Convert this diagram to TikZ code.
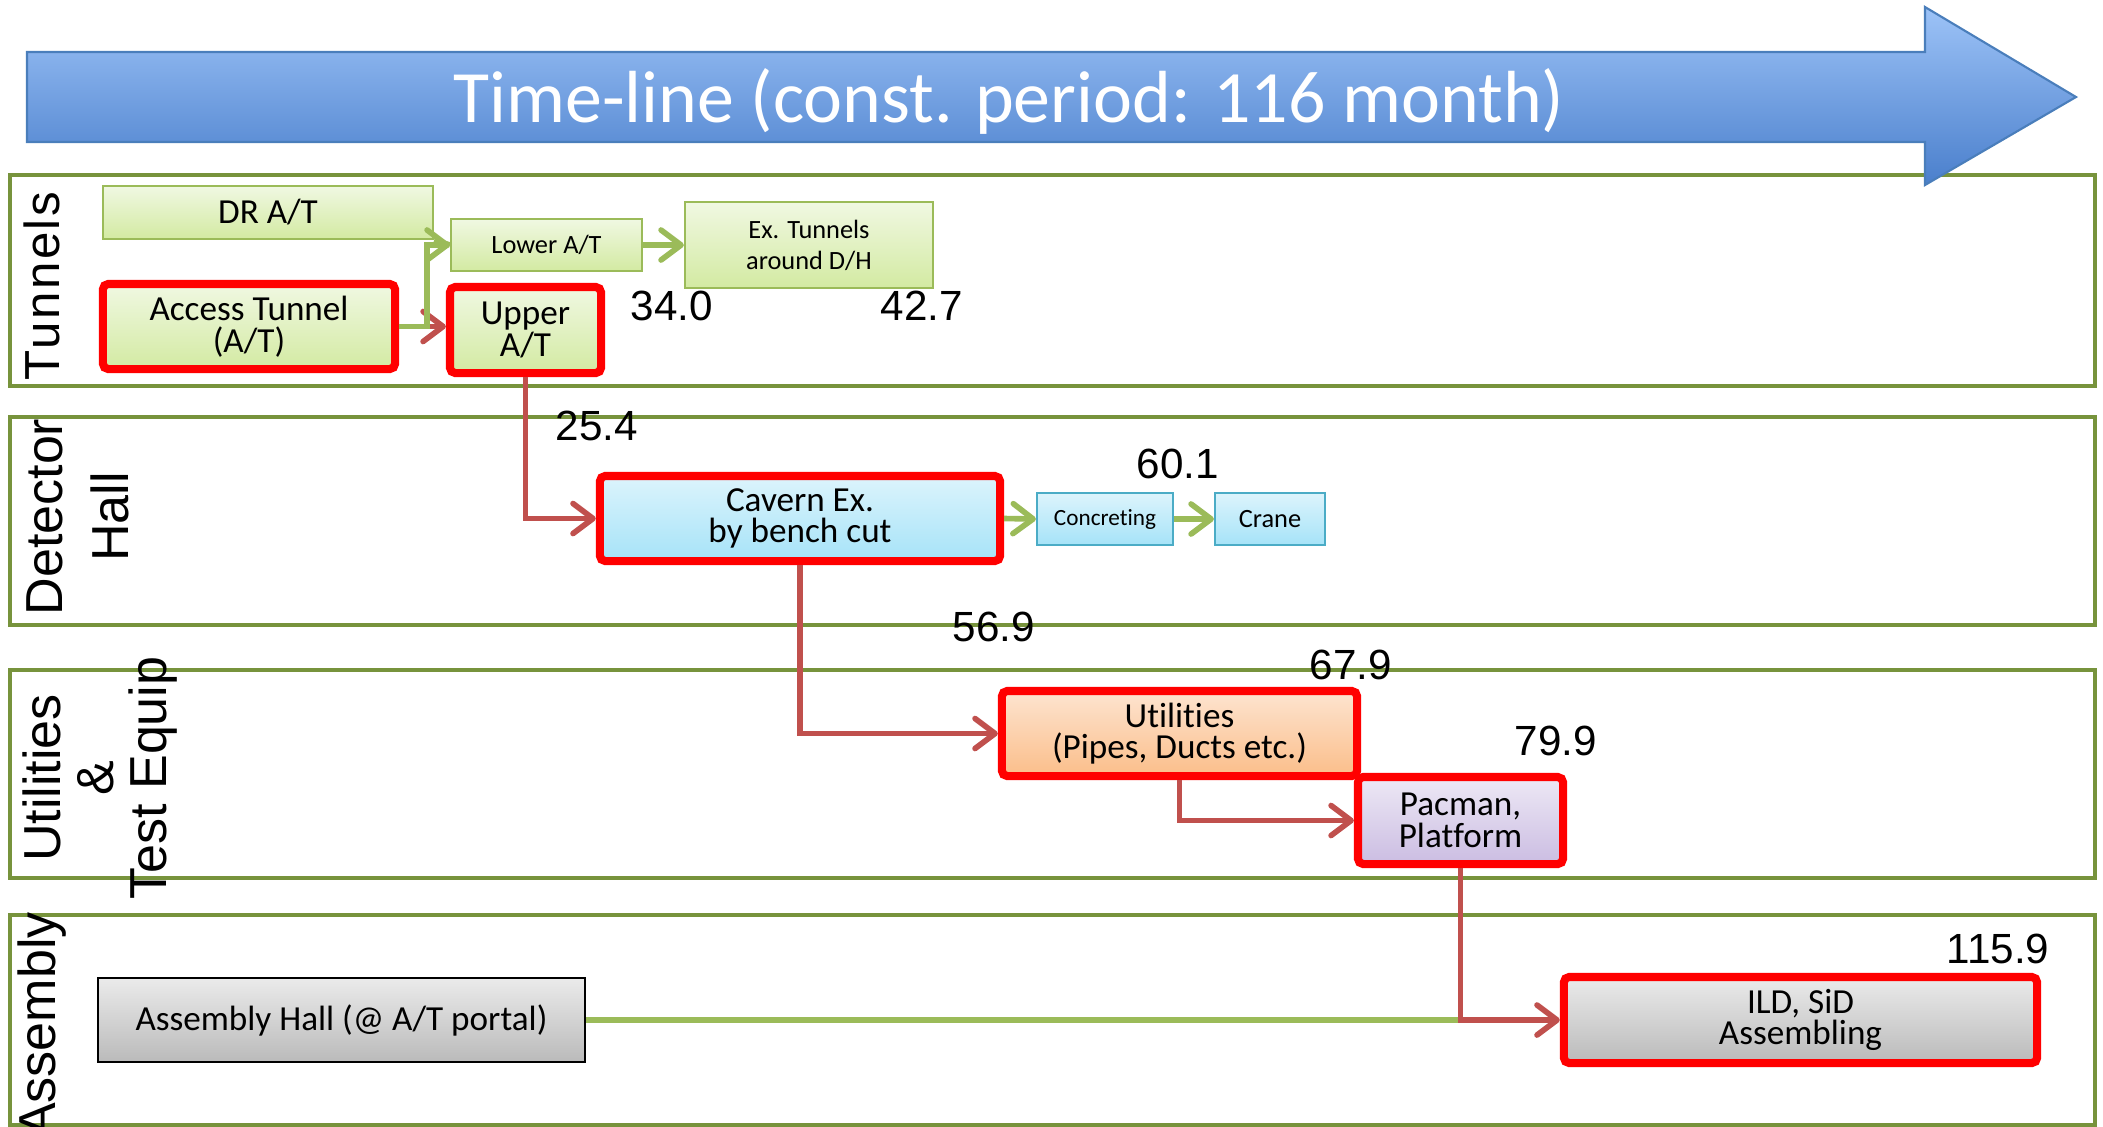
\documentclass[tikz,border=0pt]{standalone}
\usepackage{fontspec}
\setmainfont{Carlito}[Ligatures={NoCommon}]
\newfontfamily\arialfont{Liberation Sans}
\usetikzlibrary{positioning}
\usetikzlibrary{arrows.meta}

\definecolor{laneolive}{HTML}{77933C}
\definecolor{linkgreen}{HTML}{9BBB59}
\definecolor{linkred}{HTML}{C0504D}
\definecolor{arrowtop}{HTML}{9DC3F7}
\definecolor{arrowbottom}{HTML}{4A7FCC}
\definecolor{arrowedge}{HTML}{4A7EBB}
\definecolor{greentop}{HTML}{F0F8E2}
\definecolor{greenbottom}{HTML}{D3EAA2}
\definecolor{cyantop}{HTML}{DCF4FC}
\definecolor{cyanbottom}{HTML}{A6E3F8}
\definecolor{cyanedge}{HTML}{4BACC6}
\definecolor{orangetop}{HTML}{FDE4D0}
\definecolor{orangebottom}{HTML}{FBBE8A}
\definecolor{purpletop}{HTML}{EDE8F5}
\definecolor{purplebottom}{HTML}{CBBDE2}

\begin{document}
\begin{tikzpicture}
 [ x=0.01cm, y=-0.01cm
 , lane/.style={draw=laneolive, line width=1pt}
 , lane label/.style={font=\arialfont\fontsize{14.8}{18.8}\selectfont, rotate=90, align=center, inner sep=0pt}
 , month/.style={font=\arialfont\fontsize{12}{14}\selectfont, inner sep=0pt}
 , task/.style={draw=linkgreen, line width=0.6pt, inner sep=0pt, align=center, font=\fontsize{10}{9}\selectfont}
 , small task/.style={task, font=\fontsize{7.5}{8.8}\selectfont}
 , critical/.style={draw=red, line width=2.3pt, rounded corners=1.5pt}
 , green fill/.style={top color=greentop, bottom color=greenbottom}
 , cyan fill/.style={draw=cyanedge, top color=cyantop, bottom color=cyanbottom}
 , orange fill/.style={top color=orangetop, bottom color=orangebottom}
 , purple fill/.style={top color=purpletop, bottom color=purplebottom}
 , grey fill/.style={top color=black!8, bottom color=black!27}
 , link/.style={draw=linkgreen, line width=1.6pt, -{Straight Barb[length=2mm, width=3mm, round]}}
 , critical link/.style={link, draw=linkred}
 ]
  \useasboundingbox (0,0) rectangle (2103,1126);

  % swim lanes
  \draw [lane] (10,175) rectangle (2095,386);
  \draw [lane] (10,417) rectangle (2095,625);
  \draw [lane] (10,670) rectangle (2095,878);
  \draw [lane] (10,915) rectangle (2095,1125);

  \node [lane label, font=\arialfont\fontsize{14}{16}\selectfont\addfontfeatures{LetterSpace=5}] (tunnels label) at (42,286) {Tunnels};
  \node [lane label] (hall label) at (78,517) {Detector\\Hall};
  \node [lane label, font=\arialfont\fontsize{14.8}{15.2}\selectfont] (utilities label) at (100,778) {Utilities\\\&\\Test Equip};
  \node [lane label] (assembly label) at (42,1025) {Assembly};

  % time line
  \draw [draw=arrowedge, line width=0.6pt, top color=arrowtop, bottom color=arrowbottom]
    (27,52) -- (1925,52) -- (1925,7) -- (2076,97) -- (1925,185) -- (1925,142) -- (27,142) -- cycle;
  \node [text=white, anchor=base, inner sep=0pt, font=\fontsize{21}{25}\selectfont] (timeline text) at (1009,122)
    {Time-line (const. period: 116 month)};

  % tunnels
  \node [task, green fill, minimum width=3.30cm, minimum height=0.53cm] (dr) at (268,212.5) {DR A/T};
  \node [small task, green fill, minimum width=1.91cm, minimum height=0.52cm] (lower) at (546.5,245) {Lower A/T};
  \node [small task, green fill, minimum width=2.48cm, minimum height=0.86cm] (extun) at (809,245) {Ex. Tunnels\\around D/H};
  \node [task, critical, green fill, minimum width=2.92cm, minimum height=0.85cm] (access) at (249,326.5) {Access Tunnel\\(A/T)};
  \node [task, critical, green fill, minimum width=1.51cm, minimum height=0.86cm] (upper) at (525.5,330) {Upper\\A/T};

  % detector hall
  \node [task, critical, cyan fill, draw=red, minimum width=4.00cm, minimum height=0.85cm] (cavern) at (800,518.5) {Cavern Ex.\\by bench cut};
  \node [task, cyan fill, font=\fontsize{6.6}{8}\selectfont, minimum width=1.36cm, minimum height=0.52cm] (concreting) at (1105,519) {Concreting};
  \node [small task, cyan fill, minimum width=1.10cm, minimum height=0.52cm] (crane) at (1270,519) {Crane};

  % utilities & test equip
  \node [task, critical, orange fill, minimum width=3.55cm, minimum height=0.85cm] (utilities) at (1179.5,733.5) {Utilities\\(Pipes, Ducts etc.)};
  \node [task, critical, purple fill, minimum width=2.05cm, minimum height=0.87cm] (pacman) at (1460.5,820.5) {Pacman,\\Platform};

  % assembly
  \node [task, grey fill, draw=black, minimum width=4.87cm, minimum height=0.84cm] (asm) at (341.5,1020) {Assembly Hall (@ A/T portal)};
  \node [task, critical, grey fill, minimum width=4.73cm, minimum height=0.86cm] (ild) at (1800.5,1020) {ILD, SiD\\Assembling};

  % months
  \node [month] (m340) at (672,306) {34.0};
  \node [month] (m427) at (922,306) {42.7};
  \node [month] (m254) at (597,426) {25.4};
  \node [month] (m601) at (1178,464) {60.1};
  \node [month] (m569) at (994,627) {56.9};
  \node [month] (m679) at (1351,665) {67.9};
  \node [month] (m799) at (1556,741) {79.9};
  \node [month] (m1159) at (1998,949) {115.9};

  % links
  \draw [critical link] (access.east) -- (access.east -| upper.west);
  \draw [link] (access.east) -- ++(28,0) |- (lower.west);
  \draw [link, -] (dr.south east) -- (lower.west);
  \draw [link] (lower.east) -- (extun.west);
  \draw [critical link] (upper.south) |- (cavern.west);
  \draw [link] (cavern.east) -- (concreting.west);
  \draw [link] (concreting.east) -- (crane.west);
  \draw [critical link] (cavern.south) |- (utilities.west);
  \draw [critical link] (utilities.south) |- (pacman.west);
  \coordinate (asm join) at (pacman.south |- asm.east);
  \draw [link, -] (asm.east) -- (asm join);
  \draw [critical link] (pacman.south) |- (ild.west);
\end{tikzpicture}
\end{document}
